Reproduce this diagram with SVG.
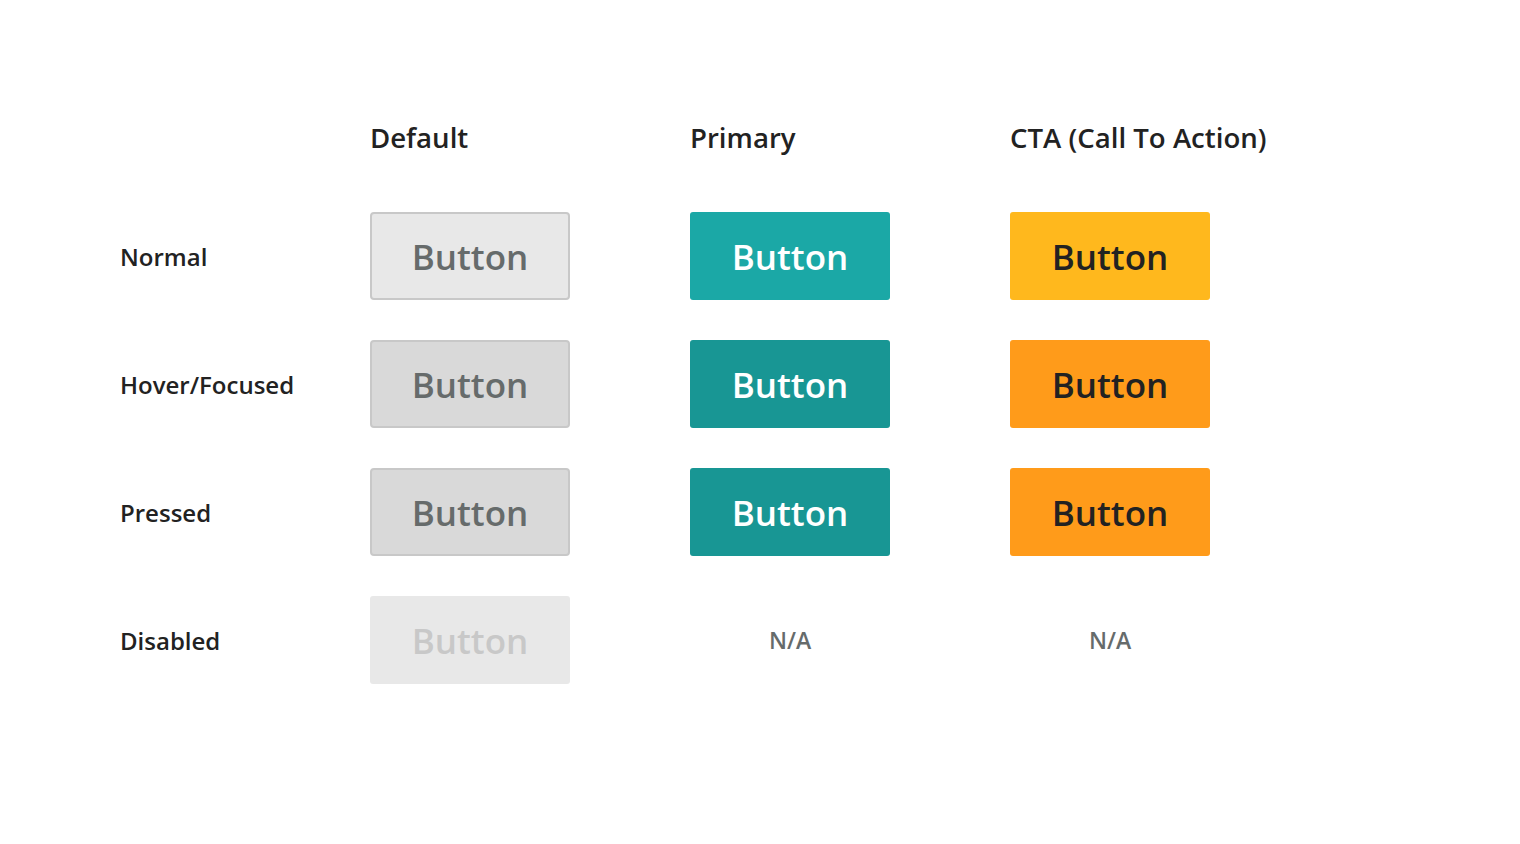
<svg xmlns="http://www.w3.org/2000/svg" width="1520" height="844" viewBox="0 0 1520 844">
<style>
text{font-family:"Open Sans","Noto Sans","Liberation Sans",sans-serif}
.hdr{font-size:27.6px;font-weight:600;fill:#222}
.lbl{font-size:24px;font-weight:600;fill:#222}
.bt{font-size:35px;font-weight:600;text-anchor:middle}
.na{font-size:23px;font-weight:600;fill:#666b6b;text-anchor:middle}
.def{fill:#e8e8e8;stroke:#c8c8c8;stroke-width:2}
.defh{fill:#d9d9d9;stroke:#c8c8c8;stroke-width:2}
.defd{fill:#e8e8e8}
.pri{fill:#1ba8a6}
.prih{fill:#189694}
.cta{fill:#ffb81d}
.ctah{fill:#ff9b1a}
.tdef{fill:#666b6b}
.tdis{fill:#c8c8c8}
.tpri{fill:#ffffff}
.tcta{fill:#222222}
</style>
<rect width="1520" height="844" fill="#ffffff"/>
<g id="headers">
<text class="hdr" x="370" y="148">Default</text>
<text class="hdr" x="690" y="148">Primary</text>
<text class="hdr" x="1010" y="148">CTA (Call To Action)</text>
</g>
<g id="row-labels">
<text class="lbl" x="120" y="266">Normal</text>
<text class="lbl" x="120" y="394">Hover/Focused</text>
<text class="lbl" x="120" y="522">Pressed</text>
<text class="lbl" x="120" y="650">Disabled</text>
</g>
<g id="default-normal"><rect class="def" x="371" y="213" width="198" height="86" rx="3"/><text class="bt tdef" x="470" y="270">Button</text></g>
<g id="default-hover"><rect class="defh" x="371" y="341" width="198" height="86" rx="3"/><text class="bt tdef" x="470" y="398">Button</text></g>
<g id="default-pressed"><rect class="defh" x="371" y="469" width="198" height="86" rx="3"/><text class="bt tdef" x="470" y="526">Button</text></g>
<g id="default-disabled"><rect class="defd" x="370" y="596" width="200" height="88" rx="3"/><text class="bt tdis" x="470" y="654">Button</text></g>
<g id="primary-normal"><rect class="pri" x="690" y="212" width="200" height="88" rx="3"/><text class="bt tpri" x="790" y="270">Button</text></g>
<g id="primary-hover"><rect class="prih" x="690" y="340" width="200" height="88" rx="3"/><text class="bt tpri" x="790" y="398">Button</text></g>
<g id="primary-pressed"><rect class="prih" x="690" y="468" width="200" height="88" rx="3"/><text class="bt tpri" x="790" y="526">Button</text></g>
<g id="primary-disabled"><text class="na" x="790" y="649">N/A</text></g>
<g id="cta-normal"><rect class="cta" x="1010" y="212" width="200" height="88" rx="3"/><text class="bt tcta" x="1110" y="270">Button</text></g>
<g id="cta-hover"><rect class="ctah" x="1010" y="340" width="200" height="88" rx="3"/><text class="bt tcta" x="1110" y="398">Button</text></g>
<g id="cta-pressed"><rect class="ctah" x="1010" y="468" width="200" height="88" rx="3"/><text class="bt tcta" x="1110" y="526">Button</text></g>
<g id="cta-disabled"><text class="na" x="1110" y="649">N/A</text></g>
<g id="connectors"></g>
</svg>
